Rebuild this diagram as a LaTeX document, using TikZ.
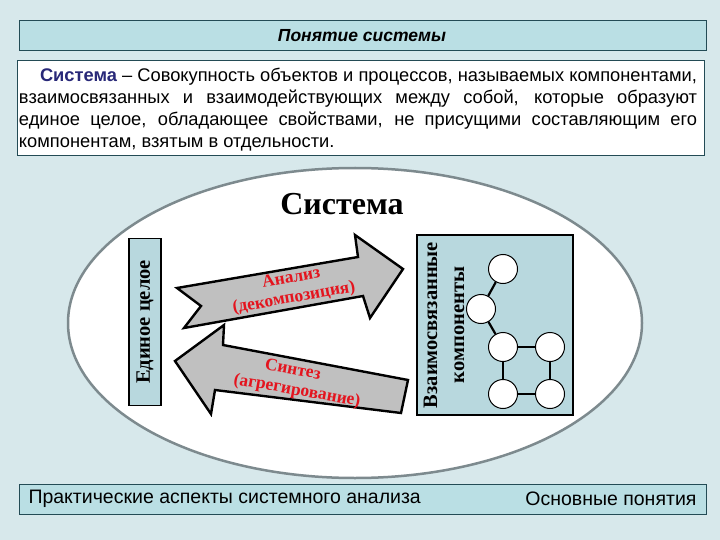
\documentclass[tikz,border=0pt]{standalone}
\usepackage{fontspec}
\setmainfont{Liberation Serif}
\newfontfamily\arialfont{Liberation Sans}
\definecolor{fon}{RGB}{215,232,235}
\definecolor{cpolosa}{RGB}{186,223,228}
\definecolor{cramka}{RGB}{35,75,85}
\definecolor{cblok}{RGB}{184,216,222}
\definecolor{cstrelka}{RGB}{192,192,192}
\definecolor{sinij}{RGB}{40,40,120}
\definecolor{krasn}{RGB}{228,20,30}
\definecolor{cellips}{RGB}{125,138,142}

\begin{document}
\begin{tikzpicture}[x=1pt,y=-1pt,
	polosa/.style={draw=cramka,fill=cpolosa,line width=1pt},
	blok/.style={draw=black,fill=cblok,line width=1.2pt,inner sep=0pt},
	strelka/.style={draw=black,fill=cstrelka,line width=2.4pt,line join=miter},
	krug/.style={circle,draw=black,fill=white,line width=1pt,minimum size=29pt,inner sep=0pt},
	svyaz/.style={line width=2.2pt},
	podpis/.style={font=\fontsize{17.5}{20}\selectfont\bfseries,text=krasn,inner sep=0pt},
	vert/.style={font=\fontsize{20.5}{27}\selectfont\bfseries,rotate=90,align=center},
	arial/.style={font=\arialfont\fontsize{19.5}{22}\selectfont}]
	\useasboundingbox (0,0) rectangle (720,540);
	\fill[fon]		(0,0) rectangle (720,540);

	% zagolovok
	\draw[polosa]		(19,21) rectangle (706,51);
	\node (zag) [font=\arialfont\fontsize{17.5}{20}\selectfont\bfseries\itshape] at (362,36) {Понятие системы};

	% opredelenie
	\draw[draw=cramka,fill=white,line width=1pt]	(17,61) rectangle (704,156);
	\node (opr) [text width=678pt,align=justify,inner sep=0pt,
		font=\arialfont\fontsize{18.3}{21.8}\selectfont] at (358,109.5)
		{\hspace*{21pt}\textcolor{sinij}{\bfseries Система} – Совокупность объектов и процессов, называемых компонентами,\linebreak
		взаимосвязанных и взаимодействующих между собой, которые образуют\linebreak
		единое целое, обладающее свойствами, не присущими составляющим его\linebreak
		компонентам, взятым в отдельности.};

	% sistema
	\draw[draw=cellips,fill=white,line width=2.5pt]	(355,323) ellipse [x radius=287, y radius=155];
	\node (sis) at (342,204) {\fontsize{32}{36}\selectfont\bfseries Система};

	\node (celoe) [blok,vert,minimum width=167pt,minimum height=32pt] at (145,322) {Единое целое};
	\node (kompbox) [blok,minimum width=156pt,minimum height=180pt] at (495,325) {};
	\node (komp) [vert] at (444,325) {Взаимосвязанные\\компоненты};

	% strelki
	\draw[strelka]		(177,288) -- (201,306) -- (184,328) -- (363,296) -- (370,318) --
						(403,269) -- (355,235) -- (358,257) -- cycle;
	\draw[strelka]		(175,361) -- (224,325) -- (223,345) -- (408,380) -- (401,413) --
						(215,390) -- (211,414) -- cycle;
	\node (analiz) [podpis,rotate=10] at (291,277) {Анализ};
	\node (dekomp) [podpis,rotate=10] at (294,298) {(декомпозиция)};
	\node (sintez) [podpis,rotate=-10] at (293,369) {Синтез};
	\node (agreg) [podpis,rotate=-10] at (297,391) {(агрегирование)};

	% komponenty
	\node (k1) [krug] at (503,269) {};
	\node (k2) [krug] at (481,309) {};
	\node (k3) [krug] at (503,347) {};
	\node (k4) [krug] at (550,347) {};
	\node (k5) [krug] at (503,394) {};
	\node (k6) [krug] at (550,394) {};
	\draw[svyaz]		(k1) -- (k2);
	\draw[svyaz]		(k2) -- (k3);
	\draw[svyaz]		(k3) -- (k4);
	\draw[svyaz]		(k3) -- (k5);
	\draw[svyaz]		(k4) -- (k6);
	\draw[svyaz]		(k5) -- (k6);

	% niz
	\draw[polosa]		(19,484) rectangle (706,514);
	\node (prakt) [arial,anchor=west] at (25,499) {Практические аспекты системного анализа};
	\node (osn) [arial,anchor=east] at (700,499) {Основные понятия};
\end{tikzpicture}
\end{document}
